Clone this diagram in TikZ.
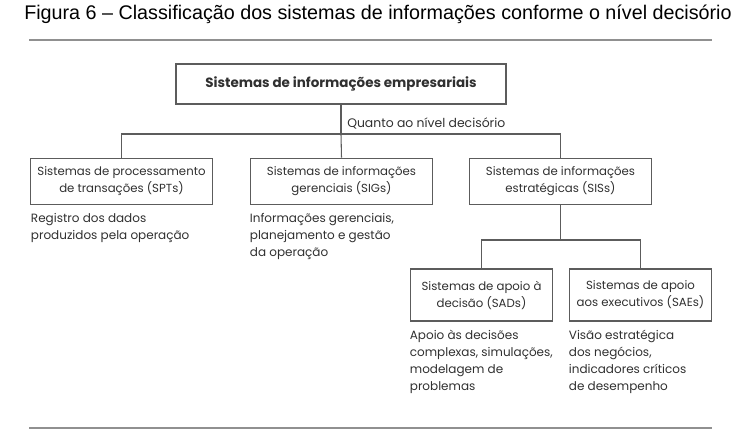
\documentclass[tikz,border=0pt]{standalone}
\usepackage{fontspec}
\setmainfont{Liberation Sans}
\newfontfamily\geofont{Poppins}
\usepackage{xcolor}
\usetikzlibrary{positioning}

\definecolor{linegray}{HTML}{5C5C5C}
\definecolor{textgray}{HTML}{303030}
\definecolor{rulegray}{HTML}{909090}

\tikzset{
  sisbox/.style={draw=linegray, line width=0.8pt, rectangle, align=center, inner sep=0pt,
    minimum width=137pt, minimum height=35pt, text=textgray,
    font=\geofont\fontsize{8.8}{12.75}\selectfont},
  smallbox/.style={sisbox, minimum width=107pt, minimum height=39pt},
  desc/.style={align=left, inner sep=0pt, text=textgray,
    font=\geofont\fontsize{9}{12.75}\selectfont},
  link/.style={draw=linegray, line width=0.8pt},
  hrule/.style={draw=rulegray, line width=1.5pt}
}

\begin{document}
\begin{tikzpicture}[x=0.75pt, y=-0.75pt]
\useasboundingbox (0,0) rectangle (751,430);

% Title and rules
\node[font=\fontsize{14.8}{17}\selectfont] (title) at (378,14) {Figura 6 -- Classificação dos sistemas de informações conforme o nível decisório};
\draw[hrule] (29,39.5) -- (712,39.5);
\draw[hrule] (29,427.5) -- (712,427.5);

% Top level
\node[sisbox, minimum width=247.5pt, minimum height=30pt, font=\geofont\bfseries\fontsize{10.1}{12.75}\selectfont] (empresa) at (341,84) {Sistemas de informações empresariais};
\coordinate (bus) at (341,134);
\node[above right=3.4pt and 4.5pt of bus, inner sep=0pt, text=textgray, font=\geofont\fontsize{9.3}{12.75}\selectfont] (nivel) {Quanto ao nível decisório};

% Second level
\node[sisbox] (spt) at (121.5,181.5) {Sistemas de processamento\\de transações (SPTs)};
\node[sisbox] (sig) at (341.5,181.5) {Sistemas de informações\\gerenciais (SIGs)};
\node[sisbox] (sis) at (560.5,181.5) {Sistemas de informações\\estratégicas (SISs)};

\node[desc, below right=6pt and 0.8pt of spt.south west] (sptdesc) {Registro dos dados\\produzidos pela operação};
\node[desc, below right=6pt and 0pt of sig.south west] (sigdesc) {Informações gerenciais,\\planejamento e gestão\\da operação};

% Third level
\coordinate (sisbus) at (560.5,240);
\node[smallbox] (sad) at (481.5,295) {Sistemas de apoio à\\decisão (SADs)};
\node[smallbox] (sae) at (640.5,295) {Sistemas de apoio\\aos executivos (SAEs)};

\node[desc, below right=6pt and 0pt of sad.south west] (saddesc) {Apoio às decisões\\complexas, simulações,\\modelagem de\\problemas};
\node[desc, below right=6pt and 0pt of sae.south west] (saedesc) {Visão estratégica\\dos negócios,\\indicadores críticos\\de desempenho};

% Connectors
\draw[link] (empresa.south) -- (bus);
\draw[link] (bus) -| (spt.north);
\draw[link] (bus) -| (sis.north);
\draw[link] (bus) -- (sig.north);
\draw[link] (sis.south) -- (sisbus);
\draw[link] (sisbus) -| (sad.north);
\draw[link] (sisbus) -| (sae.north);
\end{tikzpicture}
\end{document}
